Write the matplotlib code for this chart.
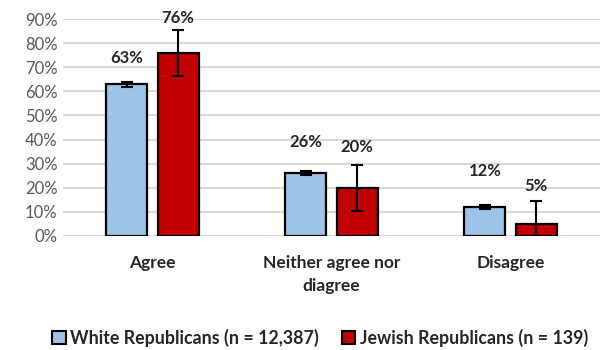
import matplotlib
matplotlib.use("Agg")
import matplotlib.pyplot as plt
import numpy as np
from matplotlib.patches import Patch

categories = ["Agree", "Neither agree nor\ndiagree", "Disagree"]
white_vals = [63, 26, 12]
jewish_vals = [76, 20, 5]
white_err = [1.0, 0.9, 0.9]
jewish_err = [9.6, 9.5, 9.6]
series_names = ["White Republicans (n = 12,387)", "Jewish Republicans (n = 139)"]
yticks = [0, 10, 20, 30, 40, 50, 60, 70, 80, 90]

# layout (label offsets above bar top, in % units)
white_lbl_off = [11.0, 12.8, 15.0]
jewish_lbl_off = [14.4, 17.1, 15.9]

plt.rcParams['font.family'] = ['Lato', 'DejaVu Sans']

fig = plt.figure(figsize=(6.03, 3.5), dpi=100)
ax = fig.add_axes([63/603, (350-236)/350, (600-63)/603, (236-19)/350])

x = np.arange(len(categories))
w = 0.228
off = 0.143
blue = "#9DC3E6"
red = "#C00000"

ax.set_axisbelow(True)
ax.yaxis.grid(True, color="#d9d9d9", linewidth=1.5)
ax.bar(x - off, white_vals, w, color=blue, edgecolor="black", linewidth=1.6, zorder=2)
ax.bar(x + off, jewish_vals, w, color=red, edgecolor="black", linewidth=1.6, zorder=2)
ax.errorbar(x - off, white_vals, yerr=white_err, fmt="none", ecolor="black",
            elinewidth=1.5, capsize=4, capthick=1.5, zorder=3)
ax.errorbar(x + off, jewish_vals, yerr=jewish_err, fmt="none", ecolor="black",
            elinewidth=1.5, capsize=4, capthick=1.5, zorder=3)

for i in range(len(categories)):
    ax.text(x[i] - off, white_vals[i] + white_lbl_off[i], f"{white_vals[i]}%",
            ha="center", va="center", fontsize=12, fontweight="bold", color="#262626")
    ax.text(x[i] + off, jewish_vals[i] + jewish_lbl_off[i], f"{jewish_vals[i]}%",
            ha="center", va="center", fontsize=12, fontweight="bold", color="#262626")

ax.set_xlim(-0.5, 2.5)
ax.set_ylim(0, 90)
ax.set_yticks(yticks)
ax.set_yticklabels([f"{t}%" for t in yticks], fontsize=12, color="#595959")
ax.set_xticks(x)
ax.set_xticklabels(categories, fontsize=12.5, fontweight="bold", color="#262626",
                   linespacing=1.5)
ax.tick_params(axis="both", length=0)
ax.tick_params(axis="x", pad=14)
ax.tick_params(axis="y", pad=4)
for s in ax.spines.values():
    s.set_visible(False)

handles = [Patch(facecolor=blue, edgecolor="black", linewidth=1.5),
           Patch(facecolor=red, edgecolor="black", linewidth=1.5)]
leg = fig.legend(handles, series_names, loc="center", bbox_to_anchor=(320/603, 1 - 338/350),
                 ncol=2, frameon=False, handlelength=0.75, handleheight=0.75,
                 handletextpad=0.25, columnspacing=1.3,
                 prop={"size": 12.8, "weight": "bold"})
for t in leg.get_texts():
    t.set_color("#262626")

fig.savefig("out.png", dpi=100)
